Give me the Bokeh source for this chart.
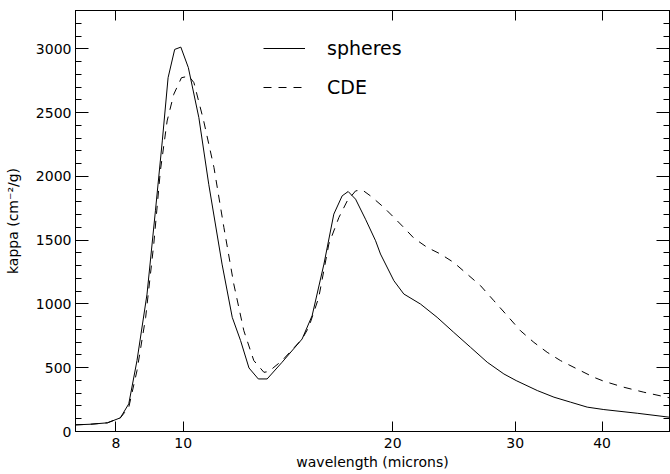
from bokeh.plotting import figure
from bokeh.models import (Range1d, LinearAxis, LogAxis, FixedTicker, SingleIntervalTicker,
                          Legend, LegendItem, NumeralTickFormatter)
from bokeh.embed import file_html
from bokeh.resources import INLINE

# ---- data ----
wl_spheres = [7.0, 7.36, 7.78, 8.12, 8.35, 8.58, 8.87, 9.12, 9.33, 9.51, 9.72, 9.92, 10.17,
              10.53, 10.88, 11.37, 11.76, 12.09, 12.43, 12.82, 13.20, 13.87, 14.82, 15.32,
              15.93, 16.46, 16.92, 17.26, 17.69, 18.28, 18.90, 19.21, 20.08, 20.75, 21.93,
              23.17, 24.48, 25.88, 27.35, 28.90, 30.10, 32.28, 34.11, 36.04, 38.08, 40.23,
              44.94, 50.0]
kappa_spheres = [52, 57, 68, 107, 217, 556, 1077, 1730, 2278, 2773, 2995, 3013, 2852,
                 2460, 1938, 1312, 895, 712, 498, 412, 412, 543, 725, 908,
                 1312, 1704, 1847, 1881, 1821, 1664, 1495, 1391, 1182, 1078, 999,
                 895, 777, 660, 543, 451, 399, 321, 269, 230, 191, 172,
                 143, 112]

wl_cde = [7.0, 7.36, 7.78, 8.12, 8.35, 8.58, 8.83, 9.07, 9.27, 9.48, 9.69, 9.94, 10.19,
          10.36, 10.70, 11.07, 11.44, 11.82, 12.22, 12.63, 13.06, 13.27, 13.87, 14.82,
          15.15, 15.66, 16.19, 16.74, 17.21, 17.69, 18.08, 18.58, 19.43, 20.19, 20.75,
          21.45, 22.42, 23.43, 24.48, 25.59, 26.75, 27.96, 29.22, 30.53, 31.91, 33.35,
          34.85, 36.83, 38.92, 40.23, 42.98, 45.92, 50.0]
kappa_cde = [52, 57, 68, 107, 190, 477, 895, 1469, 2043, 2434, 2643, 2773, 2786,
             2734, 2434, 2069, 1599, 1156, 790, 556, 464, 470, 556, 725,
             817, 1051, 1469, 1678, 1808, 1886, 1894, 1847, 1756, 1665, 1599,
             1516, 1443, 1391, 1325, 1234, 1143, 1025, 908, 790, 699, 621,
             556, 490, 425, 394, 347, 308, 264]

x_ticks = [8, 10, 20, 30, 40]
series_labels = ["spheres", "CDE"]

FONT = "DejaVu Sans"
INK = "black"

p = figure(frame_width=594, frame_height=421, x_axis_type="log",
           x_range=Range1d(7, 50), y_range=Range1d(0, 3300),
           output_backend="svg", toolbar_location=None,
           min_border_left=75, min_border_top=10, min_border_right=1, min_border_bottom=43,
           background_fill_color="white", border_fill_color="white")
p.grid.visible = False
p.outline_line_color = INK
p.outline_line_width = 1

r1 = p.line(wl_spheres, kappa_spheres, line_color=INK, line_width=1)
r2 = p.line(wl_cde, kappa_cde, line_color=INK, line_width=1, line_dash="8 7")


def style_axis(ax, major_in, show_labels):
    ax.axis_line_color = INK
    ax.major_tick_line_color = INK
    ax.minor_tick_line_color = INK
    ax.major_tick_in = major_in
    ax.major_tick_out = 0
    ax.minor_tick_in = 6
    ax.minor_tick_out = 0
    if show_labels:
        ax.major_label_text_font = FONT
        ax.major_label_text_font_size = "14px"
        ax.major_label_text_color = INK
        ax.axis_label_text_font = FONT
        ax.axis_label_text_font_size = "14px"
        ax.axis_label_text_font_style = "normal"
        ax.axis_label_text_color = INK
    else:
        ax.major_label_text_font_size = "0px"
        ax.major_label_text_color = None
        ax.major_label_text_alpha = 0
        ax.major_label_standoff = 0
        ax.axis_label = None


# bottom x axis
xb = p.xaxis[0]
xb.ticker = FixedTicker(ticks=x_ticks, minor_ticks=[])
xb.formatter = NumeralTickFormatter(format="0")
xb.axis_label = "wavelength (microns)"
style_axis(xb, 10, True)
xb.major_label_standoff = 6
xb.axis_label_standoff = 3

# left y axis
yl = p.yaxis[0]
yl.ticker = SingleIntervalTicker(interval=500, num_minor_ticks=5)
yl.axis_label = "kappa (cm\u207b\u00b2/g)"
style_axis(yl, 13, True)
yl.major_label_standoff = 4
yl.axis_label_standoff = 12

# top and right axes (ticks only)
xt = LogAxis(ticker=FixedTicker(ticks=x_ticks, minor_ticks=[]))
style_axis(xt, 10, False)
p.add_layout(xt, "above")

yr = LinearAxis(ticker=SingleIntervalTicker(interval=500, num_minor_ticks=5))
style_axis(yr, 13, False)
p.add_layout(yr, "right")

legend = Legend(items=[LegendItem(label=series_labels[0], renderers=[r1]),
                       LegendItem(label=series_labels[1], renderers=[r2])],
                location=(188, 333), orientation="vertical",
                glyph_width=42, glyph_height=22, label_height=22,
                label_standoff=22, spacing=17, padding=0, margin=0,
                border_line_alpha=0, background_fill_alpha=0,
                label_text_font=FONT, label_text_font_size="19px",
                label_text_color=INK, label_text_baseline="alphabetic")
p.add_layout(legend)

open("out.html", "w").write(file_html(p, INLINE))
